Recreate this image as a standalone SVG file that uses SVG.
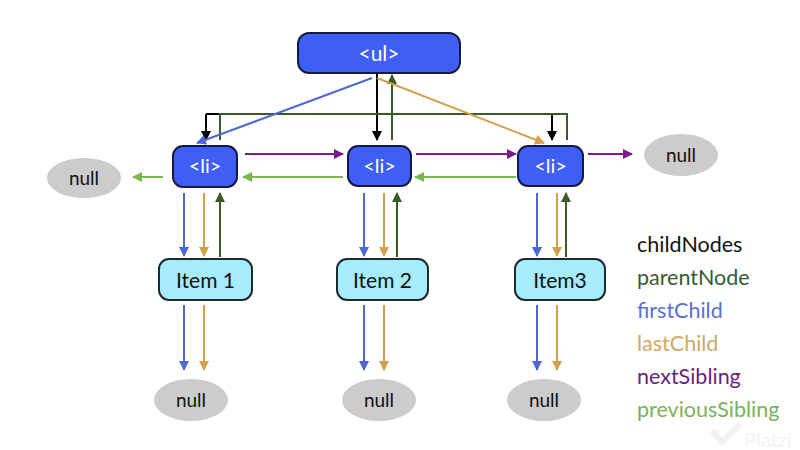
<svg xmlns="http://www.w3.org/2000/svg" width="800" height="450" viewBox="0 0 800 450">
<style>
.blk{fill:#3f5ef5;stroke:#161a40;stroke-width:2}
.item{fill:#a6ecfa;stroke:#1b2a30;stroke-width:2}
.nul{fill:#cccccc}
.wt{fill:#ffffff;font-family:Lato,"Open Sans",sans-serif;text-anchor:middle}
.bt{fill:#111111;font-family:Lato,"Open Sans",sans-serif;text-anchor:middle}
.leg{font-family:Lato,"Open Sans",sans-serif;font-size:21.5px}
.c{fill:none;stroke-width:2}
.k{stroke:#000000}
.p{stroke:#3a5a28}
.f{stroke:#4d68d6}
.l{stroke:#d2a04c}
.n{stroke:#7a1a8c}
.s{stroke:#79b84c}
</style>
<defs>
<marker id="mk" viewBox="0 0 10 10" refX="9" refY="5" markerWidth="10" markerHeight="10" markerUnits="userSpaceOnUse" orient="auto"><path d="M0,0 L10,5 L0,10 z" fill="#000000"/></marker>
<marker id="mp" viewBox="0 0 10 10" refX="9" refY="5" markerWidth="10" markerHeight="10" markerUnits="userSpaceOnUse" orient="auto"><path d="M0,0 L10,5 L0,10 z" fill="#3a5a28"/></marker>
<marker id="mf" viewBox="0 0 10 10" refX="9" refY="5" markerWidth="10" markerHeight="10" markerUnits="userSpaceOnUse" orient="auto"><path d="M0,0 L10,5 L0,10 z" fill="#4d68d6"/></marker>
<marker id="ml" viewBox="0 0 10 10" refX="9" refY="5" markerWidth="10" markerHeight="10" markerUnits="userSpaceOnUse" orient="auto"><path d="M0,0 L10,5 L0,10 z" fill="#d2a04c"/></marker>
<marker id="mn" viewBox="0 0 10 10" refX="9" refY="5" markerWidth="10" markerHeight="10" markerUnits="userSpaceOnUse" orient="auto"><path d="M0,0 L10,5 L0,10 z" fill="#7a1a8c"/></marker>
<marker id="ms" viewBox="0 0 10 10" refX="9" refY="5" markerWidth="10" markerHeight="10" markerUnits="userSpaceOnUse" orient="auto"><path d="M0,0 L10,5 L0,10 z" fill="#79b84c"/></marker>
</defs>
<rect width="800" height="450" fill="#ffffff"/>
<g id="watermark" opacity="0.12">
<path d="M712,430 L722,442 L740,424" fill="none" stroke="#999999" stroke-width="6"/>
<text x="744" y="447" font-family="Lato,'Open Sans',sans-serif" font-size="20" fill="#999999">Platzi</text>
</g>
<g id="connectors">
<path class="c k" d="M206,114 L552,114"/>
<path class="c k" d="M206,114 L206,140" marker-end="url(#mk)"/>
<path class="c k" d="M552,114 L552,140" marker-end="url(#mk)"/>
<path class="c k" d="M377,74 L377,140" marker-end="url(#mk)"/>
<path class="c p" d="M220,140 L220,114 L567,114 L567,140"/>
<path class="c p" d="M392,140 L392,75" marker-end="url(#mp)"/>
<path class="c f" d="M372,78 L197,143" marker-end="url(#mf)"/>
<path class="c l" d="M377,78 L544,143" marker-end="url(#ml)"/>
<path class="c n" d="M245,154 L343,154" marker-end="url(#mn)"/>
<path class="c n" d="M416,154 L516,154" marker-end="url(#mn)"/>
<path class="c n" d="M588,154 L632,154" marker-end="url(#mn)"/>
<path class="c s" d="M163,177 L133,177" marker-end="url(#ms)"/>
<path class="c s" d="M343,177 L243,177" marker-end="url(#ms)"/>
<path class="c s" d="M516,177 L415,177" marker-end="url(#ms)"/>
<path class="c f" d="M184,193 L184,256" marker-end="url(#mf)"/>
<path class="c l" d="M204,193 L204,256" marker-end="url(#ml)"/>
<path class="c p" d="M220,257 L220,193" marker-end="url(#mp)"/>
<path class="c f" d="M364,193 L364,256" marker-end="url(#mf)"/>
<path class="c l" d="M384,193 L384,256" marker-end="url(#ml)"/>
<path class="c p" d="M397,257 L397,193" marker-end="url(#mp)"/>
<path class="c f" d="M537,193 L537,256" marker-end="url(#mf)"/>
<path class="c l" d="M557,193 L557,256" marker-end="url(#ml)"/>
<path class="c p" d="M566,257 L566,193" marker-end="url(#mp)"/>
<path class="c f" d="M184,305 L184,370" marker-end="url(#mf)"/>
<path class="c l" d="M204,305 L204,370" marker-end="url(#ml)"/>
<path class="c f" d="M364,305 L364,370" marker-end="url(#mf)"/>
<path class="c l" d="M384,305 L384,370" marker-end="url(#ml)"/>
<path class="c f" d="M537,305 L537,370" marker-end="url(#mf)"/>
<path class="c l" d="M557,305 L557,370" marker-end="url(#ml)"/>
</g>
<g id="ul"><rect class="blk" x="298" y="33" width="162" height="40" rx="11"/><text class="wt" x="379" y="61" font-size="21">&lt;ul&gt;</text></g>
<g id="li1"><rect class="blk" x="173" y="146" width="64" height="41" rx="10"/><text class="wt" x="205" y="173" font-size="20">&lt;li&gt;</text></g>
<g id="li2"><rect class="blk" x="348" y="146" width="63" height="40" rx="10"/><text class="wt" x="379.5" y="173" font-size="20">&lt;li&gt;</text></g>
<g id="li3"><rect class="blk" x="518" y="146" width="65" height="40" rx="10"/><text class="wt" x="550.5" y="173" font-size="20">&lt;li&gt;</text></g>
<g id="item1"><rect class="item" x="159" y="259" width="93" height="41" rx="10"/><text class="bt" x="205.5" y="288" font-size="21">Item 1</text></g>
<g id="item2"><rect class="item" x="337" y="259" width="91" height="41" rx="10"/><text class="bt" x="382.5" y="288" font-size="21">Item 2</text></g>
<g id="item3"><rect class="item" x="515" y="259" width="90" height="41" rx="10"/><text class="bt" x="560" y="288" font-size="21">Item3</text></g>
<g id="null-left"><ellipse class="nul" cx="84" cy="178" rx="37" ry="20"/><text class="bt" x="84" y="185" font-size="19">null</text></g>
<g id="null-right"><ellipse class="nul" cx="681" cy="155" rx="37" ry="21"/><text class="bt" x="681" y="162" font-size="19">null</text></g>
<g id="null1"><ellipse class="nul" cx="191" cy="400" rx="37" ry="21"/><text class="bt" x="191" y="407" font-size="19">null</text></g>
<g id="null2"><ellipse class="nul" cx="379" cy="400" rx="37" ry="21"/><text class="bt" x="379" y="407" font-size="19">null</text></g>
<g id="null3"><ellipse class="nul" cx="544" cy="400" rx="37" ry="21"/><text class="bt" x="544" y="407" font-size="19">null</text></g>
<g id="legend" class="leg">
<text x="637" y="252" fill="#111111">childNodes</text>
<text x="637" y="285" fill="#3a5a2c">parentNode</text>
<text x="637" y="318" fill="#5a6fd2">firstChild</text>
<text x="637" y="351" fill="#d3a862">lastChild</text>
<text x="637" y="384" fill="#6a1f7c">nextSibling</text>
<text x="637" y="417" fill="#7cb257">previousSibling</text>
</g>
</svg>
